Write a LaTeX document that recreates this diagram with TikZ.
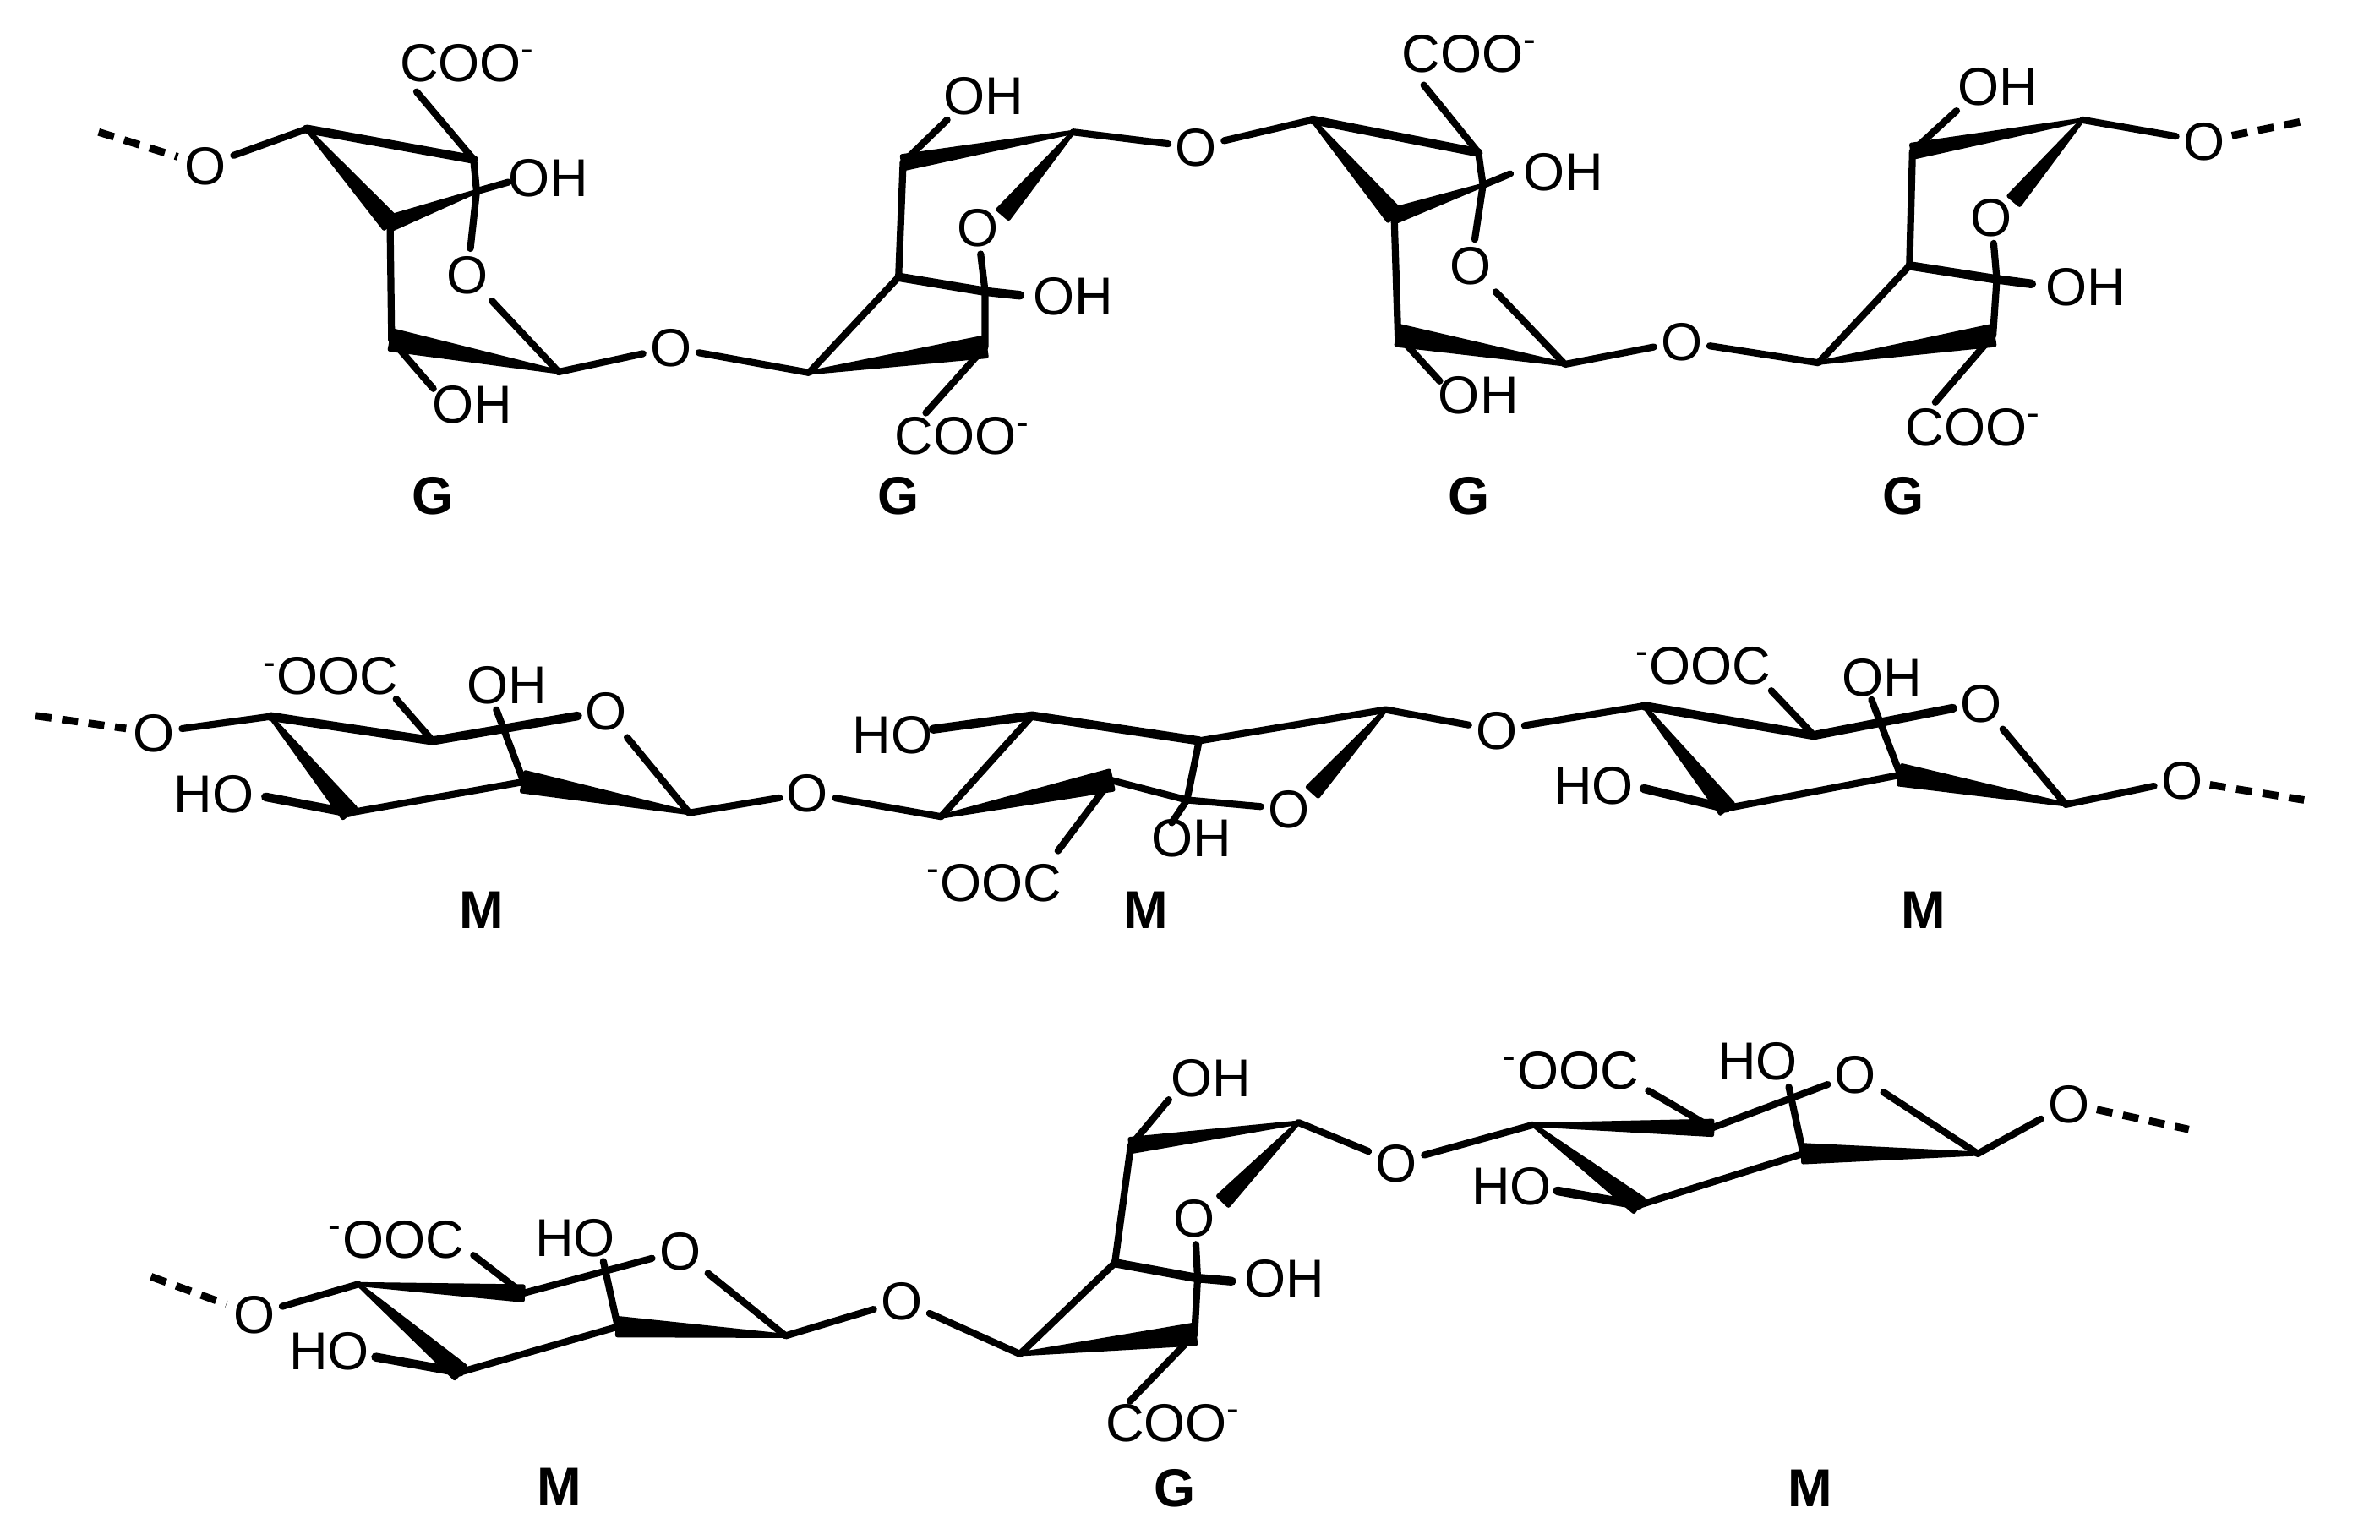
\documentclass[tikz,border=0pt]{standalone}
\usepackage{fontspec}
\setmainfont{Liberation Sans}
\usetikzlibrary{calc}
\tikzset{
  bond/.style={draw=black,line width=2.6pt,line cap=round,line join=round},
  heavy/.style={bond,line width=3.3pt},
  link/.style={bond,dashed,dash pattern=on 6pt off 4pt,line width=2.8pt,line cap=butt},
  atom/.style={inner sep=2.5pt,font=\fontsize{20}{24}\selectfont,text height=14.3pt,text depth=0pt},
  grp/.style={inner sep=0pt,font=\fontsize{20}{24}\selectfont,text height=14.3pt,text depth=0pt},
  unitname/.style={inner sep=0pt,font=\fontsize{20}{24}\selectfont\bfseries,text height=14.3pt,text depth=0pt},
}
\newcommand{\wdg}[3][3pt]{%
  \filldraw[black,line width=1.6pt,line join=round] (#2) -- ($(#3)!#1!90:(#2)$) -- ($(#3)!#1!-90:(#2)$) -- cycle;}
\newcommand{\cooneg}{COO\textsuperscript{-}}
\newcommand{\negooc}{\textsuperscript{-}OOC}
\begin{document}
\begin{tikzpicture}[x=0.02cm,y=-0.02cm]
\useasboundingbox (0,0) rectangle (1568,1014);
% ===== row 1 =====
\node[atom] (ro1) at (135.5,109) {O};
\node[atom] (ro1r) at (308,181) {O};
\node[atom] (ro2) at (442,229) {O};
\node[atom] (ro2r) at (644,150) {O};
\node[atom] (ro3) at (788,97) {O};
\node[atom] (ro3r) at (969,175) {O};
\node[atom] (ro4) at (1108,225) {O};
\node[atom] (ro4r) at (1312,143) {O};
\node[atom] (ro5) at (1452,93) {O};
\node[grp] (rc1) at (308,41) {\cooneg};
\node[grp] (rc2) at (634,287) {\cooneg};
\node[grp] (rc3) at (968,35) {\cooneg};
\node[grp] (rc4) at (1300,281) {\cooneg};
\node[grp] (rh1) at (361,117) {OH};
\node[grp] (rh2) at (311,266) {OH};
\node[grp] (rh3) at (707,195) {OH};
\node[grp] (rh4) at (648,63) {OH};
\node[grp] (rh5) at (1030,113) {OH};
\node[grp] (rh6) at (974,260) {OH};
\node[grp] (rh7) at (1374,189) {OH};
\node[grp] (rh8) at (1316,57) {OH};
\node[unitname] (rn1) at (285,326) {G};
\node[unitname] (rn2) at (592,326) {G};
\node[unitname] (rn3) at (968,326) {G};
\node[unitname] (rn4) at (1254,326) {G};
\coordinate (s1) at (65,87);
\coordinate (a1) at (202,85);
\coordinate (b1) at (312,105);
\coordinate (c1) at (257,147);
\coordinate (d1) at (314,126);
\coordinate (e1) at (258,224);
\coordinate (f1) at (368,245);
\coordinate (t1) at (274.5,60.5);
\coordinate (t2) at (335,120);
\coordinate (t3) at (285.5,256);
\draw[link] (s1) -- (ro1);
\draw[bond] (ro1) -- (a1);
\draw[heavy] (a1) -- (b1);
\wdg{a1}{c1}
\wdg[2.4pt]{d1}{c1}
\draw[bond] (b1) -- (d1) -- (ro1r);
\draw[bond] (d1) -- (t2);
\draw[bond] (b1) -- (t1);
\draw[bond] (c1) -- (e1);
\wdg[3.6pt]{f1}{e1}
\draw[bond] (ro1r) -- (f1) -- (ro2);
\draw[bond] (e1) -- (t3);
\coordinate (g1) at (533,245.5);
\coordinate (h1) at (649,228.5);
\coordinate (i1) at (592,182.5);
\coordinate (j1) at (649,192);
\coordinate (k1) at (595,107);
\coordinate (l1) at (707,87);
\coordinate (w1) at (661,141);
\coordinate (u1) at (672,194.5);
\coordinate (u2) at (610,272);
\coordinate (u3) at (624,79);
\draw[bond] (ro2) -- (g1) -- (i1);
\wdg[3.6pt]{g1}{h1}
\draw[heavy] (i1) -- (j1) -- (u1);
\draw[bond] (ro2r) -- (j1) -- (h1) -- (u2);
\draw[bond] (i1) -- (k1) -- (u3);
\wdg[2.4pt]{l1}{k1}
\draw[bond] (l1) -- (ro3);
\wdg[2.6pt]{l1}{w1}
\coordinate (a2) at (864.5,79);
\coordinate (b2) at (974,100.5);
\coordinate (c2) at (918.5,142);
\coordinate (d2) at (977,122);
\coordinate (e2) at (921,221);
\coordinate (f2) at (1031,240);
\coordinate (t4) at (938,56);
\coordinate (t5) at (995,114.5);
\coordinate (t6) at (948.5,251);
\draw[bond] (ro3) -- (a2);
\draw[heavy] (a2) -- (b2);
\wdg{a2}{c2}
\wdg[2.4pt]{d2}{c2}
\draw[bond] (b2) -- (d2) -- (ro3r);
\draw[bond] (d2) -- (t5);
\draw[bond] (b2) -- (t4);
\draw[bond] (c2) -- (e2) -- (t6);
\wdg[3.6pt]{f2}{e2}
\draw[bond] (ro3r) -- (f2) -- (ro4);
\coordinate (g2) at (1198,239);
\coordinate (h2) at (1313,221);
\coordinate (i2) at (1258,175);
\coordinate (j2) at (1315.5,184);
\coordinate (k2) at (1260,99.5);
\coordinate (l2) at (1372,79);
\coordinate (w2) at (1327,132);
\coordinate (u4) at (1338.5,187);
\coordinate (u5) at (1275,265);
\coordinate (u6) at (1289,73);
\coordinate (s2) at (1522,79);
\draw[bond] (ro4) -- (g2) -- (i2);
\wdg[3.6pt]{g2}{h2}
\draw[heavy] (i2) -- (j2) -- (u4);
\draw[bond] (ro4r) -- (j2) -- (h2) -- (u5);
\draw[bond] (i2) -- (k2) -- (u6);
\wdg[2.4pt]{l2}{k2}
\draw[bond] (l2) -- (ro5);
\wdg[2.6pt]{l2}{w2}
\draw[link] (ro5) -- (s2);
% ===== row 2 =====
\node[atom] (mo1) at (101.5,482.5) {O};
\node[atom] (mo1r) at (399,468.5) {O};
\node[atom] (mo2) at (532,522.5) {O};
\node[atom] (mo2r) at (849,533) {O};
\node[atom] (mo3) at (986,481) {O};
\node[atom] (mo3r) at (1305,463) {O};
\node[atom] (mo4) at (1437.5,514) {O};
\node[grp] (mc1) at (218,445) {\negooc};
\node[grp] (mc2) at (655,581) {\negooc};
\node[grp] (mc3) at (1122,438) {\negooc};
\node[grp] (mh1) at (334,451) {OH};
\node[grp] (mh2) at (141,523) {HO};
\node[grp] (mh3) at (588,484) {HO};
\node[grp] (mh4) at (785,552) {OH};
\node[grp] (mh5) at (1240,446) {OH};
\node[grp] (mh6) at (1050,517) {HO};
\node[unitname] (mn1) at (317,599) {M};
\node[unitname] (mn2) at (755,599) {M};
\node[unitname] (mn3) at (1267,599) {M};
\coordinate (s3) at (23.5,471.5);
\coordinate (a3) at (178,472);
\coordinate (b3) at (285,488);
\coordinate (c3) at (230,535.5);
\coordinate (e3) at (345,515);
\coordinate (f3) at (454,535.5);
\coordinate (t7) at (261,460.5);
\coordinate (t8) at (327,467.5);
\coordinate (t9) at (175,525);
\draw[link] (s3) -- (mo1);
\draw[bond] (mo1) -- (a3);
\draw[heavy] (a3) -- (b3) -- (mo1r);
\wdg{a3}{c3}
\draw[bond] (b3) -- (t7);
\draw[bond] (c3) -- (e3) -- (t8);
\wdg[3.6pt]{f3}{e3}
\draw[heavy] (c3) -- (t9);
\draw[bond] (mo1r) -- (f3) -- (mo2);
\coordinate (g3) at (620,538);
\coordinate (h3) at (732,514);
\coordinate (i3) at (680,471.5);
\coordinate (j3) at (790,488);
\coordinate (k3) at (782,527);
\coordinate (l3) at (913,467.5);
\coordinate (w3) at (865,521.5);
\coordinate (u7) at (697,560.5);
\coordinate (u8) at (772,542);
\draw[bond] (mo2) -- (g3) -- (i3);
\wdg[3.6pt]{g3}{h3}
\draw[heavy] (mh3) -- (i3) -- (j3);
\draw[bond] (j3) -- (k3) -- (u8);
\draw[bond] (h3) -- (k3) -- (mo2r);
\draw[bond] (h3) -- (u7);
\draw[bond] (j3) -- (l3) -- (mo3);
\wdg[2.6pt]{l3}{w3}
\coordinate (a4) at (1083,465);
\coordinate (b4) at (1195,484.5);
\coordinate (c4) at (1137.5,532.5);
\coordinate (e4) at (1252,510.5);
\coordinate (f4) at (1361,530);
\coordinate (t10) at (1167,455);
\coordinate (t11) at (1233,461);
\coordinate (t12) at (1083,519.5);
\coordinate (s4) at (1518,527);
\draw[bond] (mo3) -- (a4);
\draw[heavy] (a4) -- (b4) -- (mo3r);
\wdg{a4}{c4}
\draw[bond] (b4) -- (t10);
\draw[bond] (c4) -- (e4) -- (t11);
\wdg[3.6pt]{f4}{e4}
\draw[heavy] (c4) -- (t12);
\draw[bond] (mo3r) -- (f4) -- (mo4);
\draw[link] (mo4) -- (s4);
% ===== row 3 =====
\node[atom] (po1) at (167.5,866) {O};
\node[atom] (po1r) at (448,824) {O};
\node[atom] (po2) at (594,857) {O};
\node[atom] (po2r) at (787,802.5) {O};
\node[atom] (po3) at (920,766) {O};
\node[atom] (po3r) at (1222.5,707.5) {O};
\node[atom] (po4) at (1363,727) {O};
\node[grp] (pc1) at (261,816) {\negooc};
\node[grp] (pc2) at (773,937) {\cooneg};
\node[grp] (pc3) at (1035,705) {\negooc};
\node[grp] (ph1) at (379,815) {HO};
\node[grp] (ph2) at (217,890) {HO};
\node[grp] (ph3) at (798,710) {OH};
\node[grp] (ph4) at (846,842) {OH};
\node[grp] (ph5) at (1158,699) {HO};
\node[grp] (ph6) at (996,781) {HO};
\node[unitname] (pn1) at (368.5,979) {M};
\node[unitname] (pn2) at (774,980) {G};
\node[unitname] (pn3) at (1192.5,980) {M};
\coordinate (s5) at (99.5,841);
\coordinate (a5) at (236,846);
\coordinate (b5) at (344.5,852);
\coordinate (c5) at (303,904);
\coordinate (e5) at (407,874);
\coordinate (f5) at (517.5,880);
\coordinate (t13) at (312,827);
\coordinate (t14) at (397.5,831);
\coordinate (t15) at (247.5,894);
\draw[link] (s5) -- (po1);
\draw[bond] (po1) -- (a5);
\wdg[2.6pt]{a5}{b5}
\draw[bond] (b5) -- (po1r);
\wdg{a5}{c5}
\draw[bond] (b5) -- (t13);
\draw[bond] (c5) -- (e5) -- (t14);
\wdg[3.2pt]{f5}{e5}
\draw[heavy] (c5) -- (t15);
\draw[bond] (po1r) -- (f5) -- (po2);
\coordinate (g5) at (672,892);
\coordinate (h5) at (787,879);
\coordinate (i5) at (734.5,832);
\coordinate (j5) at (789,842);
\coordinate (k5) at (745,754.5);
\coordinate (l5) at (855.5,739.5);
\coordinate (w5) at (806,791);
\coordinate (u9) at (811.5,844);
\coordinate (u10) at (744.5,923);
\coordinate (u11) at (770,724.5);
\draw[bond] (po2) -- (g5) -- (i5);
\wdg[3.6pt]{g5}{h5}
\draw[heavy] (i5) -- (j5) -- (u9);
\draw[bond] (po2r) -- (j5) -- (h5) -- (u10);
\draw[bond] (i5) -- (k5) -- (u11);
\wdg[2.4pt]{l5}{k5}
\draw[bond] (l5) -- (po3);
\wdg[2.6pt]{l5}{w5}
\coordinate (a6) at (1010,741);
\coordinate (b6) at (1128,743);
\coordinate (c6) at (1079.5,794);
\coordinate (e6) at (1188,760);
\coordinate (f6) at (1303,760);
\coordinate (t16) at (1086,718.5);
\coordinate (t17) at (1178.5,716);
\coordinate (t18) at (1026,784.5);
\coordinate (s6) at (1442,744);
\draw[bond] (po3) -- (a6);
\wdg[2.6pt]{a6}{b6}
\draw[bond] (b6) -- (po3r);
\wdg{a6}{c6}
\draw[bond] (b6) -- (t16);
\draw[bond] (c6) -- (e6) -- (t17);
\wdg[3.2pt]{f6}{e6}
\draw[heavy] (c6) -- (t18);
\draw[bond] (po3r) -- (f6) -- (po4);
\draw[link] (po4) -- (s6);
\end{tikzpicture}
\end{document}
